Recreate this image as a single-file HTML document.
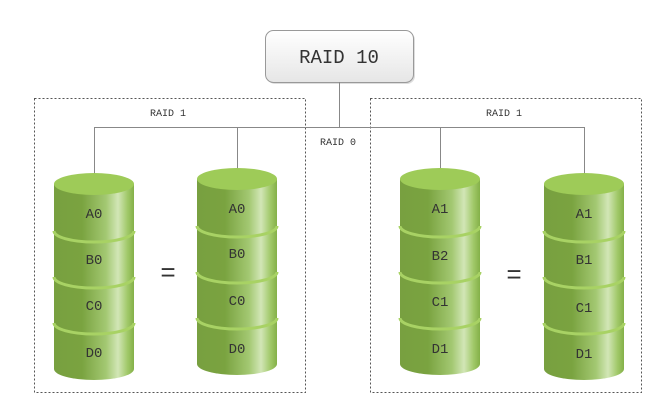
<!DOCTYPE html>
<html><head><meta charset="utf-8"><style>
html,body{margin:0;padding:0;background:#fff;}
svg{display:block;}
text{font-family:"Liberation Mono","DejaVu Sans Mono",monospace;fill:#333;}
</style></head><body>
<svg width="665" height="406" viewBox="0 0 665 406" xmlns="http://www.w3.org/2000/svg">
<defs>
<linearGradient id="body" x1="0" x2="1" y1="0" y2="0">
<stop offset="0" stop-color="#78a040"/>
<stop offset="0.35" stop-color="#7aa340"/>
<stop offset="0.65" stop-color="#a3c872"/>
<stop offset="0.8" stop-color="#d2e6b6"/>
<stop offset="0.92" stop-color="#a0c868"/>
<stop offset="1" stop-color="#84b048"/>
</linearGradient>
<linearGradient id="box" x1="0" x2="0" y1="0" y2="1">
<stop offset="0" stop-color="#ffffff"/>
<stop offset="1" stop-color="#e6e6e6"/>
</linearGradient>
<g id="cyl">
<path d="M0,0 L0,185 A40,11 0 0 0 80,185 L80,0 Z" fill="url(#body)"/>
<path d="M0,47 A40,11 0 0 0 80,47" fill="none" stroke="#a8d264" stroke-width="3"/>
<path d="M0,93 A40,11 0 0 0 80,93" fill="none" stroke="#a8d264" stroke-width="3"/>
<path d="M0,139 A40,11 0 0 0 80,139" fill="none" stroke="#a8d264" stroke-width="3"/>
<ellipse cx="40" cy="0" rx="40" ry="11" fill="#9ecb58"/>
</g>
</defs>
<rect x="34.5" y="98.5" width="271" height="294" fill="none" stroke="#555" stroke-dasharray="2,2"/>
<rect x="370.5" y="98.5" width="271" height="294" fill="none" stroke="#555" stroke-dasharray="2,2"/>
<rect x="267" y="32" width="148" height="52" rx="8" fill="#ddd"/>
<rect x="265.5" y="30.5" width="148" height="52" rx="8" fill="url(#box)" stroke="#999"/>
<text x="339" y="63" font-size="19" text-anchor="middle" fill="#222">RAID 10</text>
<g stroke="#888" stroke-width="1" fill="none">
<path d="M339.5,82 V127.5 M94,127.5 H584 M94.5,127 V178 M237.5,127 V172 M440.5,127 V172 M584.5,127 V178"/>
</g>
<text x="168" y="116" font-size="10" text-anchor="middle">RAID 1</text>
<text x="504" y="116" font-size="10" text-anchor="middle">RAID 1</text>
<text x="338" y="145" font-size="10" text-anchor="middle">RAID 0</text>
<use href="#cyl" x="54" y="184"/>
<use href="#cyl" x="197" y="179"/>
<use href="#cyl" x="400" y="179"/>
<use href="#cyl" x="544" y="184"/>
<g font-size="14" text-anchor="middle">
<text x="94" y="218">A0</text><text x="94" y="264">B0</text><text x="94" y="310">C0</text><text x="94" y="357">D0</text>
<text x="237" y="213">A0</text><text x="237" y="258">B0</text><text x="237" y="305">C0</text><text x="237" y="353">D0</text>
<text x="440" y="213">A1</text><text x="440" y="260">B2</text><text x="440" y="306">C1</text><text x="440" y="353">D1</text>
<text x="584" y="218">A1</text><text x="584" y="264">B1</text><text x="584" y="312">C1</text><text x="584" y="358">D1</text>
</g>
<text x="168" y="281" font-size="26" text-anchor="middle" fill="#222">=</text>
<text x="514" y="283" font-size="26" text-anchor="middle" fill="#222">=</text>
</svg>
</body></html>
